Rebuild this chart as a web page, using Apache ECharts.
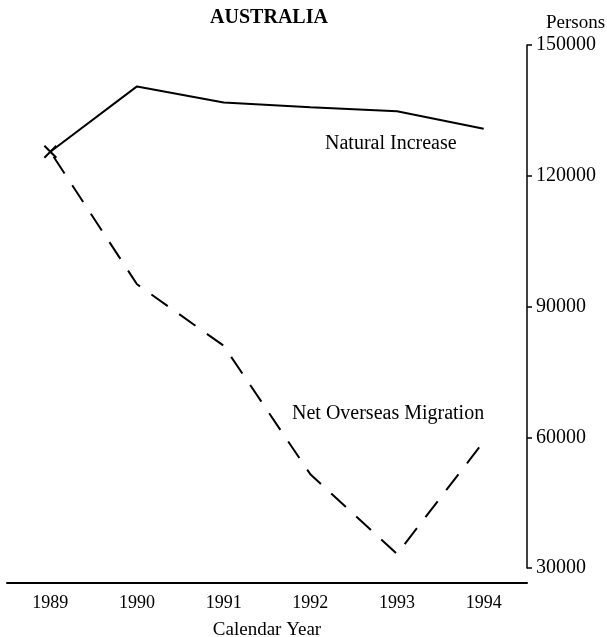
<!DOCTYPE html>
<html>
<head>
<meta charset="utf-8">
<script src="https://cdn.jsdelivr.net/npm/echarts@6/dist/echarts.min.js"></script>
<style>
	html, body { margin: 0; padding: 0; background: #fff; }
	#chart_aus { width: 607px; height: 637px; }
</style>
</head>
<body>
<div id="chart_aus"></div>
<script>
var years = ['1989', '1990', '1991', '1992', '1993', '1994'];
var naturalIncrease = [125500, 140500, 136800, 135700, 134800, 130800];
var netMigration = [125500, 95100, 81000, 51500, 33200, 59000];
var yTicks = [30000, 60000, 90000, 120000, 150000];

var serif = 'Liberation Serif';

// first point of natural increase carries the small cross
var naturalData = naturalIncrease.map(function(v, i) {
	if (i == 0) {
		return {
			value: v,
			symbol: 'path://M0,0L10,10M10,0L0,10',
			symbolSize: 12,
			itemStyle: { color: 'transparent', borderColor: '#000', borderWidth: 2 }
		};
	}
	return { value: v, symbol: 'none' };
});

var chart_aus = echarts.init(document.getElementById('chart_aus'));
var option_aus = {
	animation: false,
	backgroundColor: '#fff',
	title: {
		text: 'AUSTRALIA',
		left: 264,
		top: 3,
		textAlign: 'center',
		textStyle: { fontFamily: serif, fontWeight: 'bold', fontSize: 20, color: '#000' }
	},
	grid: { left: 7, right: 80, top: 45, bottom: 69, outerBoundsMode: 'none' },
	xAxis: {
		type: 'category',
		data: years,
		boundaryGap: true,
		offset: 15,
		name: 'Calendar Year',
		nameLocation: 'middle',
		nameGap: 38,
		nameTextStyle: { fontFamily: serif, fontSize: 19, color: '#000' },
		axisLine: { lineStyle: { color: '#000', width: 2 } },
		axisTick: { alignWithLabel: true, length: 5, lineStyle: { color: '#000', width: 1.5 } },
		axisLabel: { fontFamily: serif, fontSize: 18, color: '#000', margin: 11 }
	},
	yAxis: {
		type: 'value',
		position: 'right',
		min: yTicks[0],
		max: yTicks[yTicks.length - 1],
		interval: 30000,
		name: 'Persons',
		nameLocation: 'end',
		nameGap: 12,
		nameTextStyle: { fontFamily: serif, fontSize: 19, color: '#000', align: 'left', padding: [0, 0, 0, 19] },
		axisLine: { show: true, lineStyle: { color: '#000', width: 1.5 } },
		axisTick: { show: true, length: 5, lineStyle: { color: '#000', width: 1.5 } },
		axisLabel: {
			fontFamily: serif, fontSize: 20, color: '#000', margin: 9,
			formatter: function(v) { return String(v); }
		},
		splitLine: { show: false }
	},
	series: [
		{
			name: 'Natural Increase',
			type: 'line',
			data: naturalData,
			showSymbol: true,
			lineStyle: { color: '#000', width: 2 },
			itemStyle: { color: '#000' }
		},
		{
			name: 'Net Overseas Migration',
			type: 'line',
			data: netMigration,
			symbol: 'none',
			// offset so the last dash reaches the 1994 end
			lineStyle: { color: '#000', width: 2, type: [20, 14], dashOffset: 28 }
		}
	],
	graphic: [
		{
			type: 'text', left: 325, top: 134,
			style: { text: 'Natural Increase', font: '20px "Liberation Serif"', fill: '#000' }
		},
		{
			type: 'text', left: 292, top: 404,
			style: { text: 'Net Overseas Migration', font: '20px "Liberation Serif"', fill: '#000' }
		}
	]
};
chart_aus.setOption(option_aus, true);
</script>
</body>
</html>
